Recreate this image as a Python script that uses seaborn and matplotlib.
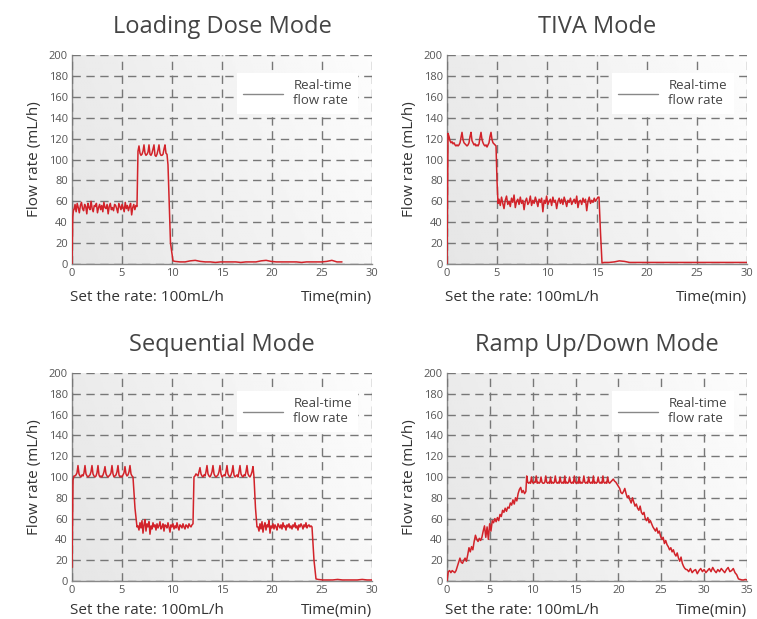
import numpy as np
import pandas as pd
import matplotlib
matplotlib.use('Agg')
import matplotlib.pyplot as plt
import seaborn as sns
from matplotlib.lines import Line2D

# ---- data: (start min, end min, flow values) ----
load_rise = [0, 45, 52]
load_low = [52, 57, 50, 58, 54, 49, 56, 59, 53, 51, 57, 55, 48, 58, 54, 52, 60, 53, 50, 56,
            55, 58, 49, 54, 57, 52, 56, 50, 59, 54, 53, 57, 48, 55, 58, 52, 54, 51, 57, 56,
            53, 49, 58, 55, 52, 57, 54, 50, 59, 53, 56, 51, 55, 58, 47, 54, 57, 52, 56, 55]
load_high = [108, 113, 106, 104, 105, 108, 114, 106, 104, 105, 107, 114, 105, 104, 106, 110,
             114, 104, 103, 105, 109, 114, 106, 104, 104, 105, 110, 114, 106, 105]
load_drop = [95, 20, 3]
load_tail = [2.5, 2, 2, 3, 3.5, 2.5, 2, 2, 1.5, 2, 2, 2, 2, 1.5, 2, 2, 2, 3, 3.5, 2.5,
             2, 2, 2, 2, 2, 1.5, 2, 2, 2, 2, 2.5, 3.5, 2, 2]

tiva_rise = [0, 125]
tiva_high = [122, 118, 116, 117, 115, 116, 114, 113, 114, 113, 114, 116, 121, 126, 119, 116,
             115, 114, 113, 114, 116, 122, 126, 118, 116, 114, 115, 113, 114, 113, 115, 121,
             126, 119, 116, 114, 113, 114, 112, 114, 116, 122, 126, 119, 116, 115, 114]
tiva_drop1 = [113, 80, 58]
tiva_low = [62, 56, 64, 58, 53, 61, 65, 57, 60, 55, 63, 59, 66, 54, 60, 62, 57, 64, 58, 61,
            52, 60, 63, 57, 59, 65, 56, 61, 58, 64, 60, 55, 62, 59, 63, 50, 61, 58, 65, 57,
            60, 62, 56, 64, 59, 61, 53, 60, 63, 58, 62, 57, 64, 60, 55, 61, 59, 63, 57, 60,
            62, 58, 65, 54, 60, 61, 57, 63, 59, 62, 51, 60, 64, 58, 61, 59, 63, 60, 62, 64]
tiva_drop2 = [64, 30, 1]
tiva_tail = [1.5, 1.5, 2, 3, 2.5, 1.5, 1.5, 1.5, 1.5, 1.5, 1.5, 1.5, 1.5, 1.5, 1.5,
             1.5, 1.5, 1.5, 1.5, 1.5, 1.5, 1.5, 1.5, 1.5, 1.5, 1.5, 1.5, 1.5, 1.5]

seq_rise = [13, 97, 101]
seq_high1 = [101, 102, 104, 111, 103, 101, 100, 102, 101, 104, 111, 103, 101, 100, 101, 102,
             105, 111, 103, 101, 100, 101, 104, 111, 102, 100, 101, 100, 102, 105, 110, 103,
             101, 100, 101, 102, 104, 111, 103, 100, 101, 102, 105, 111, 102, 100, 101, 100,
             102, 104, 110, 103, 101, 102, 105, 111, 103, 101]
seq_drop1 = [100, 70, 52]
seq_low1 = [53, 49, 56, 51, 58, 46, 54, 59, 48, 55, 52, 57, 45, 53, 50, 56, 52, 54, 49, 55,
            51, 53, 57, 50, 52, 55, 48, 54, 53, 51, 56, 52, 47, 54, 52, 55, 50, 53, 51, 56,
            52, 49, 54, 53, 51, 55, 52, 50, 54, 53, 51, 55, 53, 52, 54]
seq_rise2 = [55, 100]
seq_high2 = [101, 103, 102, 101, 105, 109, 103, 101, 100, 102, 101, 105, 111, 103, 101, 100,
             102, 105, 111, 103, 101, 100, 101, 102, 105, 111, 103, 100, 101, 102, 101, 105,
             111, 103, 101, 100, 102, 105, 111, 102, 100, 101, 102, 100, 105, 111, 103, 101,
             100, 102, 101, 105, 111, 103, 101, 100, 102, 105, 110]
seq_drop2 = [100, 70, 52]
seq_low2 = [52, 48, 55, 50, 57, 47, 53, 56, 49, 54, 52, 58, 46, 53, 51, 55, 50, 54, 52, 49,
            55, 53, 51, 54, 50, 56, 52, 53, 49, 54, 52, 55, 51, 53, 50, 54, 52, 56, 51, 53,
            49, 54, 52, 55, 53, 50, 54, 52, 56, 51, 53, 54, 52, 53]
seq_drop3 = [52, 20, 2]
seq_tail = [1.5, 1, 1, 1, 1.5, 1, 1, 1, 1, 1.5, 1, 1]

ramp_up = [0, 9, 10, 8, 10, 9, 8, 10, 14, 18, 22, 18, 17, 20, 22, 19, 25, 32, 28, 33,
           30, 38, 44, 40, 38, 41, 39, 42, 48, 53, 42, 52, 40, 55, 48, 58, 56, 60, 57, 61,
           58, 64, 62, 68, 66, 70, 67, 71, 70, 75, 73, 78, 74, 80, 77, 84, 88, 90, 85, 87,
           84, 86]
ramp_flat = [101, 95, 94, 95, 94, 100, 95, 94, 95, 95, 101, 94, 95, 94, 95, 100, 95, 94, 94,
             95, 101, 95, 94, 95, 94, 100, 94, 95, 94, 95, 101, 95, 94, 95, 94, 100, 95, 94,
             95, 94, 101, 94, 95, 94, 95, 100, 95, 94, 95, 94, 101, 95, 94, 95, 94, 100, 94,
             95, 94, 95, 101, 95, 94, 95, 94, 100, 95, 94, 95, 94, 101, 94, 95, 94, 95, 100,
             95, 94, 95, 94, 101, 95, 94, 95, 94, 100, 95, 94, 95, 96, 97]
ramp_down = [98, 96, 95, 93, 91, 89, 85, 84, 86, 89, 84, 80, 82, 78, 75, 80, 76, 72, 74, 70,
             68, 72, 66, 64, 66, 60, 58, 61, 56, 58, 55, 52, 50, 48, 51, 46, 48, 43, 40, 42,
             36, 39, 35, 33, 30, 32, 28, 30, 26, 24, 27, 22, 19, 23, 17, 14, 12, 11]
ramp_low = [11, 9, 12, 8, 10, 11, 7, 10, 12, 9, 11, 8, 10, 12, 9, 13, 10, 8, 11, 9,
            12, 10, 8, 11, 13, 9, 10, 12, 8, 6]
ramp_tail = [2, 1.5, 1, 1, 1.5, 1]

charts = [
    ('Loading Dose Mode', 30, [(0, 0.15, load_rise), (0.2, 6.5, load_low), (6.6, 9.5, load_high),
                               (9.6, 10.1, load_drop), (10.3, 27.0, load_tail)]),
    ('TIVA Mode', 30, [(0, 0.1, tiva_rise), (0.2, 4.8, tiva_high), (4.9, 5.1, tiva_drop1),
                       (5.2, 15.1, tiva_low), (15.2, 15.5, tiva_drop2), (15.7, 30, tiva_tail)]),
    ('Sequential Mode', 30, [(0, 0.2, seq_rise), (0.3, 6.0, seq_high1), (6.1, 6.5, seq_drop1),
                             (6.6, 12.0, seq_low1), (12.1, 12.2, seq_rise2), (12.3, 18.1, seq_high2),
                             (18.2, 18.5, seq_drop2), (18.6, 23.9, seq_low2), (24.0, 24.4, seq_drop3),
                             (24.6, 30, seq_tail)]),
    ('Ramp Up/Down Mode', 35, [(0, 9.2, ramp_up), (9.3, 19.3, ramp_flat), (19.4, 27.9, ramp_down),
                               (28.0, 33.8, ramp_low), (34.0, 35, ramp_tail)]),
]

sns.set_theme(style='white')
plt.rcParams['font.family'] = ['Open Sans', 'DejaVu Sans']

fig = plt.figure(figsize=(7.57, 6.19), dpi=100)
positions = [[0.0951, 0.5735, 0.3963, 0.3376], [0.5905, 0.5735, 0.3963, 0.3376],
             [0.0951, 0.0614, 0.3963, 0.3360], [0.5905, 0.0614, 0.3963, 0.3360]]
note_y = [-0.158, -0.158, -0.142, -0.142]

gx, gy = np.meshgrid(np.linspace(0, 1, 200), np.linspace(0, 1, 100))
grad = 0.90 + 0.07 * gx + 0.02 * gy

for pos, ny, (title, xmax, segs) in zip(positions, note_y, charts):
    ax = fig.add_axes(pos)
    t = np.concatenate([np.linspace(a, b, len(v)) for a, b, v in segs])
    flow = np.concatenate([np.asarray(v, dtype=float) for a, b, v in segs])
    df = pd.DataFrame({'time': t, 'flow': flow})

    ax.imshow(grad, extent=[0, 1, 0, 1], origin='lower', transform=ax.transAxes,
              cmap='gray', vmin=0, vmax=1, aspect='auto', zorder=0)
    sns.lineplot(data=df, x='time', y='flow', ax=ax, color='#d2232a', lw=1.1,
                 sort=False, estimator=None, zorder=3)

    ax.set_xlim(0, xmax)
    ax.set_ylim(0, 200)
    ax.set_xticks(np.arange(0, xmax + 1, 5))
    ax.set_yticks(np.arange(0, 201, 20))
    ax.tick_params(length=0, labelsize=8, labelcolor='#555555', pad=3)
    ax.grid(True, color='#777777', lw=1, linestyle=(0, (6, 4)))
    ax.set_axisbelow(False)
    for s in ['top', 'right']:
        ax.spines[s].set_visible(False)
    for s in ['left', 'bottom']:
        ax.spines[s].set_color('#888888')
        ax.spines[s].set_linewidth(1)

    ax.set_xlabel('')
    ax.set_ylabel('Flow rate (mL/h)', fontsize=11, color='#333333', labelpad=5)
    ax.set_title(title, fontsize=17, color='#444444', pad=16)

    ax.text(-0.007, ny, 'Set the rate: 100mL/h', transform=ax.transAxes,
            fontsize=11, color='#333333', ha='left', va='center')
    ax.text(1.0, ny, 'Time(min)', transform=ax.transAxes,
            fontsize=11, color='#333333', ha='right', va='center')

    handle = Line2D([], [], color='#888888', lw=1)
    leg = ax.legend([handle], ['Real-time\nflow rate'], loc='upper right',
                    bbox_to_anchor=(0.955, 0.915), frameon=True, fancybox=False,
                    facecolor='white', edgecolor='none', framealpha=1,
                    fontsize=9.5, handlelength=3, handletextpad=0.8,
                    borderpad=0.5, borderaxespad=0)
    for txt in leg.get_texts():
        txt.set_color('#444444')
    leg.set_zorder(5)

fig.savefig('out.png', dpi=100)
